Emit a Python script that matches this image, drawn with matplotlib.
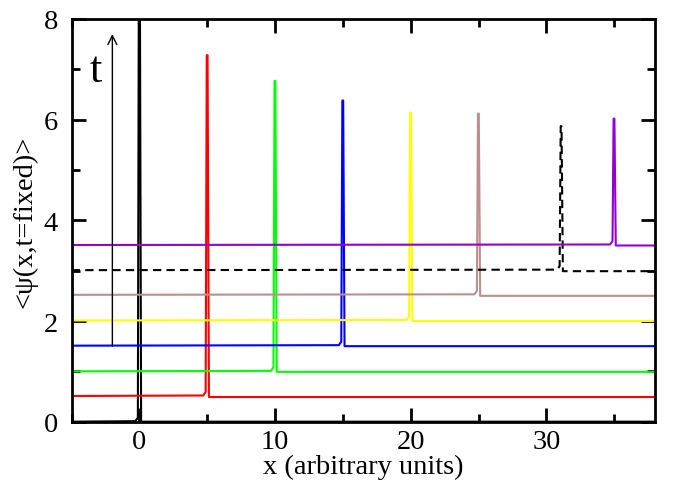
import matplotlib
matplotlib.use('Agg')
import matplotlib.pyplot as plt
from matplotlib.ticker import MultipleLocator

plt.rcParams['font.family'] = ['Liberation Serif', 'DejaVu Serif']
plt.rcParams['mathtext.fontset'] = 'stix'

# peak position, peak height and the level on either side of the spike
peak_x = [0, 5, 10, 15, 20, 25, 31.1, 35]
peak_y = [9.6, 7.28, 6.77, 6.38, 6.14, 6.12, 5.87, 6.02]
base_left = [0.0, 0.51, 1.0, 1.51, 2.01, 2.52, 3.01, 3.51]
base_right = [0.0, 0.49, 0.99, 1.5, 2.0, 2.5, 2.99, 3.5]
colors = ['black', 'red', '#00ff00', 'blue', '#ffff00', '#bc8f8f', 'black', '#9400d3']
styles = ['-', '-', '-', '-', '-', '-', (0, (4, 2.5)), '-']

x_lo, x_hi = -5, 38

fig = plt.figure(figsize=(6.73, 4.85), dpi=100)
ax = fig.add_axes([0.1065, 0.1285, 0.8665, 0.8303])

for p, h, bl, br, c, ls in zip(peak_x, peak_y, base_left, base_right, colors, styles):
    xs = [x_lo, p - 0.3, p - 0.12, p - 0.04, p + 0.02, p + 0.12, x_hi]
    ys = [bl, bl + 0.01, bl + 0.08, h, h, br, br]
    ax.plot(xs, ys, color=c, linestyle=ls, linewidth=1.5, clip_on=True)

# time arrow
ax.annotate('', xy=(-2, 7.7), xytext=(-2, 1.5),
            arrowprops=dict(arrowstyle='->', color='black', lw=1.0,
                            mutation_scale=16, shrinkA=0, shrinkB=0))
ax.text(-3.2, 6.77, 't', fontsize=32, ha='center', va='baseline')

ax.set_xlim(x_lo, x_hi)
ax.set_ylim(0, 8)
ax.xaxis.set_major_locator(MultipleLocator(10))
ax.xaxis.set_minor_locator(MultipleLocator(5))
ax.yaxis.set_major_locator(MultipleLocator(2))
ax.yaxis.set_minor_locator(MultipleLocator(1))

ax.tick_params(which='both', direction='in', top=True, right=True, width=2, labelsize=20.5)
ax.tick_params(which='major', length=10)
ax.tick_params(which='minor', length=5.5)
ax.tick_params(axis='x', pad=5)
ax.tick_params(axis='y', pad=10)
for s in ax.spines.values():
    s.set_linewidth(2)

ax.set_xlabel('x (arbitrary units)', fontsize=20.5, labelpad=0)
ax.set_ylabel('<ψ(x,t=fixed)>', fontsize=20.5, labelpad=4)

fig.savefig('out.png', dpi=100)
